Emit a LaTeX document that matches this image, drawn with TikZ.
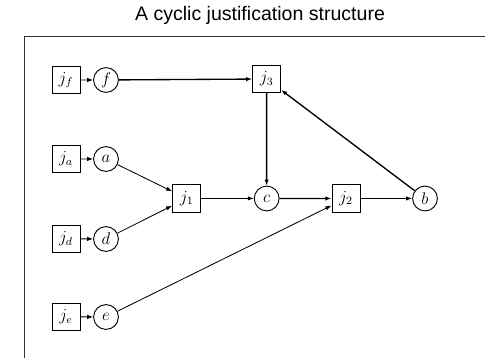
\documentclass[tikz,border=0pt]{standalone}
\usepackage{fontspec}
\newfontfamily\titlefont{Liberation Sans}
\usetikzlibrary{arrows.meta}
\begin{document}
\begin{tikzpicture}[scale=0.025, every node/.style={font=\large}]
\tikzstyle{every node}+=[inner sep=0pt]
\tikzstyle{just}=[draw, line width=0.7pt, minimum width=0.7cm, minimum height=0.68cm]
\tikzstyle{fact}=[draw, circle, line width=0.65pt, minimum size=0.62cm]
\tikzstyle{link}=[line width=0.6pt, -{Latex[length=1.5mm,width=1.1mm]}]
\tikzstyle{bold link}=[link, line width=0.95pt]
\useasboundingbox (0,0) rectangle (485,-358);
\node [anchor=base] (title) at (260,-20.7) {\titlefont\fontsize{13.9}{16}\selectfont A cyclic justification structure};
\draw [line width=0.7pt, black!80] (485,-36) -- (24,-36) -- (24,-358);
% premises on the left
\node [just] (jf) at (66,-80) {$j_f$};
\node [fact] (f) at (106,-80) {$f$};
\node [just] (ja) at (66,-159) {$j_a$};
\node [fact] (a) at (106,-159) {$a$};
\node [just] (jd) at (66,-239) {$j_d$};
\node [fact] (d) at (106,-239) {$d$};
\node [just] (je) at (66,-317) {$j_e$};
\node [fact] (e) at (106,-317) {$e$};
% the cycle
\node [just] (j1) at (186.7,-198.5) {$j_1$};
\node [fact] (c) at (266.7,-198.5) {$c$};
\node [just] (j3) at (266.7,-79) {$j_3$};
\node [just] (j2) at (346,-198.5) {$j_2$};
\node [fact] (b) at (425,-198.5) {$b$};
\draw [link] (jf) -- (f);
\draw [link] (ja) -- (a);
\draw [link] (jd) -- (d);
\draw [link] (je) -- (e);
\draw [link] (a) -- (j1);
\draw [link] (d) -- (j1);
\draw [link] (j1) -- (c);
\draw [bold link] (f) -- (j3);
\draw [bold link] (j3) -- (c);
\draw [bold link] (c) -- (j2);
\draw [link] (e) -- (j2);
\draw [link] (j2) -- (b);
\draw [bold link] (b) -- (j3);
\end{tikzpicture}
\end{document}
